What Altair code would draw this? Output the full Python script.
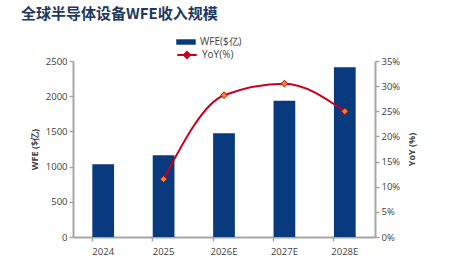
import altair as alt
import pandas as pd

# Global semiconductor equipment (WFE) revenue, $100M, with year-over-year growth
years = ["2024", "2025", "2026E", "2027E", "2028E"]
wfe = [1035, 1160, 1475, 1935, 2410]
yoy = [None, 0.115, 0.282, 0.305, 0.250]

bar_name = "WFE($亿)"
line_name = "YoY(%)"

df = pd.DataFrame({"year": years, "wfe": wfe, "yoy": yoy})
df["s1"] = bar_name
df["s2"] = line_name

NAVY = "#0A3A7E"
RED = "#C8001E"
ORANGE = "#F08A1C"
AXIS_GRAY = "#A6A6A6"
TEXT = "#404040"
FONT = "Open Sans"

x_enc = alt.X(
    "year:N",
    sort=years,
    scale=alt.Scale(paddingInner=0.64, paddingOuter=0.32),
    axis=alt.Axis(
        title=None, labelAngle=0, labelFont=FONT, labelFontSize=9.5,
        labelColor=TEXT, labelPadding=5, domainColor=AXIS_GRAY,
        domainWidth=2, tickColor=AXIS_GRAY, tickWidth=1.5, tickSize=4,
        bandPosition=0,
    ),
)

bars = alt.Chart(df).mark_bar().encode(
    x=x_enc,
    y=alt.Y(
        "wfe:Q",
        scale=alt.Scale(domain=[0, 2500]),
        axis=alt.Axis(
            title="WFE ($亿)", values=[0, 500, 1000, 1500, 2000, 2500],
            format="d", grid=False, labelFont=FONT, labelFontSize=9.5,
            labelColor=TEXT, titleFont=FONT, titleFontSize=9,
            titleFontWeight="bold", titleColor=TEXT, titlePadding=6,
            domainColor=AXIS_GRAY, domainWidth=2, tickColor=AXIS_GRAY,
            tickWidth=1.5, tickSize=4, labelPadding=2,
        ),
    ),
    fill=alt.Fill(
        "s1:N",
        scale=alt.Scale(domain=[bar_name], range=[NAVY]),
        legend=alt.Legend(
            title=None, orient="none", legendX=103, legendY=-29,
            symbolType="M-1,-0.28H1V0.28H-1Z", symbolSize=380,
            symbolStrokeWidth=0, labelFont=FONT, labelFontSize=10,
            labelColor=TEXT, padding=0,
        ),
    ),
)

# Right-hand growth axis, shared by the line and its markers
yoy_axis = alt.Axis(
    orient="right", title="YoY (%)", format=".0%",
    values=[0, 0.05, 0.10, 0.15, 0.20, 0.25, 0.30, 0.35],
    grid=False, labelFont=FONT, labelFontSize=9.5, labelColor=TEXT,
    labelOverlap=False, titleFont=FONT, titleFontSize=9,
    titleFontWeight="bold", titleColor=TEXT, titleAngle=270,
    titleX=41, titleY=88,
    domainColor=AXIS_GRAY, domainWidth=2, tickColor=AXIS_GRAY,
    tickWidth=1.5, tickSize=4, labelPadding=2,
)
yoy_y = alt.Y("yoy:Q", scale=alt.Scale(domain=[0, 0.35]), axis=yoy_axis)

growth = alt.Chart(df).transform_filter("datum.yoy != null")

line = growth.mark_line(interpolate="monotone", strokeWidth=2).encode(
    x=x_enc,
    y=yoy_y,
    stroke=alt.Stroke(
        "s2:N",
        scale=alt.Scale(domain=[line_name], range=[RED]),
        legend=alt.Legend(
            title=None, orient="none", legendX=103, legendY=-17,
            symbolType="M-1,0H1M0,-0.32L0.32,0L0,0.32L-0.32,0Z",
            symbolSize=380, symbolStrokeWidth=2, symbolFillColor=ORANGE,
            labelFont=FONT, labelFontSize=10, labelColor=TEXT, padding=0,
        ),
    ),
)

points = growth.mark_point(
    shape="diamond", filled=True, fill=ORANGE, stroke=RED,
    strokeWidth=1, size=45, opacity=1,
).encode(x=x_enc, y=yoy_y)

chart = alt.layer(bars, alt.layer(line, points)).resolve_scale(
    y="independent", fill="independent", stroke="independent"
).properties(
    width=302,
    height=176,
    autosize=alt.AutoSizeParams(type="none"),
    padding={"left": 73, "top": 61, "right": 87, "bottom": 29},
    title=alt.TitleParams(
        "全球半导体设备WFE收入规模", anchor="start", frame="group", dx=-52,
        font="Noto Sans CJK SC", fontSize=15, fontWeight="bold",
        color="#22385E", offset=10,
    ),
).configure_view(stroke=None)

chart.save("out.html", embed_options={"renderer": "svg", "actions": False})
